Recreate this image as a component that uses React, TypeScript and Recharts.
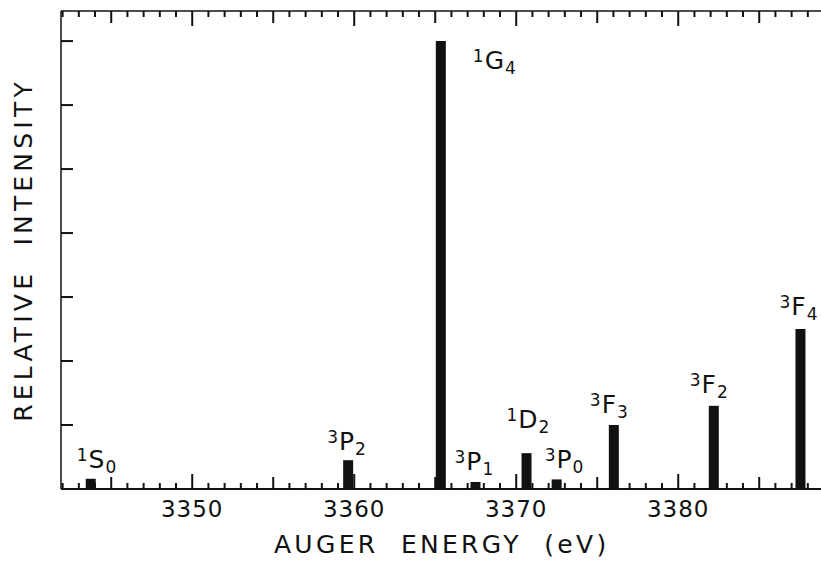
import { BarChart, Bar, XAxis, YAxis, LabelList } from "recharts";

// Auger lines: energy (eV) and relative intensity
const energies = [3343.74, 3359.63, 3365.35, 3367.49, 3370.64, 3372.5, 3376.03, 3382.2, 3387.55];
const intensities = [0.16, 0.45, 7.0, 0.11, 0.56, 0.15, 1.0, 1.3, 2.5];
const termSup = ["1", "3", "1", "3", "1", "3", "3", "3", "3"];
const termLetter = ["S", "P", "G", "P", "D", "P", "F", "F", "F"];
const termSub = ["0", "2", "4", "1", "2", "0", "3", "2", "4"];

const energyTicks = [
  3342, 3343, 3344, 3345, 3346, 3347, 3348, 3349, 3350, 3351, 3352, 3353, 3354, 3355, 3356, 3357,
  3358, 3359, 3360, 3361, 3362, 3363, 3364, 3365, 3366, 3367, 3368, 3369, 3370, 3371, 3372, 3373,
  3374, 3375, 3376, 3377, 3378, 3379, 3380, 3381, 3382, 3383, 3384, 3385, 3386, 3387, 3388,
];
const energyLabels = [3350, 3360, 3370, 3380];
const intensityTicks = [0, 1, 2, 3, 4, 5, 6, 7];

const data = energies.map((energy, i) => ({ energy, intensity: intensities[i] }));

// label placement relative to bar top-center (layout only)
const labelOffsets: [number, number][] = [
  [-14, -11], [-21, -10], [32, 28], [-21, -12], [-20, -25], [-12, -11], [-24, -12], [-24, -13], [-21, -14],
];

const FONT = "'DejaVu Sans', 'Liberation Sans', sans-serif";
const INK = "#111";

// chart geometry (axes are 1px thick boxes)
const W = 830;
const H = 563;
const MARGIN = { top: 10, right: 6.6, bottom: 73, left: 60 };
const PLOT_TOP = MARGIN.top + 1;
const PLOT_BOTTOM = H - MARGIN.bottom - 1;
const PLOT_LEFT = MARGIN.left + 1;
const PLOT_RIGHT = W - MARGIN.right - 1;

const tickLen = (v: number) => {
  const r = Math.round(v);
  return r % 10 === 0 ? 15 : r % 5 === 0 ? 12 : 6;
};

const BottomTick = (props: any) => {
  const { x, payload } = props;
  const v = Number(payload.value);
  const len = tickLen(v);
  return (
    <g>
      <line x1={x} x2={x} y1={PLOT_BOTTOM} y2={PLOT_BOTTOM - len} stroke={INK} strokeWidth={2} />
      {energyLabels.includes(Math.round(v)) && (
        <text x={x} y={PLOT_BOTTOM + 28} textAnchor="middle" fontSize={23} fontFamily={FONT} letterSpacing={1} fill={INK}>
          {Math.round(v)}
        </text>
      )}
    </g>
  );
};

const TopTick = (props: any) => {
  const { x, payload } = props;
  const len = tickLen(Number(payload.value));
  return <line x1={x} x2={x} y1={PLOT_TOP} y2={PLOT_TOP + len} stroke={INK} strokeWidth={2} />;
};

const LeftTick = (props: any) => {
  const { y, payload } = props;
  if (Number(payload.value) === 0) return <g />;
  return <line x1={PLOT_LEFT} x2={PLOT_LEFT + 12} y1={y} y2={y} stroke={INK} strokeWidth={2} />;
};

const RightTick = (props: any) => {
  const { y, payload } = props;
  if (Number(payload.value) === 0) return <g />;
  return <line x1={PLOT_RIGHT} x2={PLOT_RIGHT - 12} y1={y} y2={y} stroke={INK} strokeWidth={2} />;
};

const TermLabel = (props: any) => {
  const { x, y, width, index } = props;
  const [dx, dy] = labelOffsets[index];
  const base = y + dy;
  return (
    <text x={x + width / 2 + dx} y={base} fontFamily={FONT} fill={INK}>
      <tspan y={base - 7} fontSize={17}>{termSup[index]}</tspan>
      <tspan y={base} dx={1} fontSize={25}>{termLetter[index]}</tspan>
      <tspan y={base + 5} dx={1} fontSize={17}>{termSub[index]}</tspan>
    </text>
  );
};

const axisCommon = {
  interval: 0 as const,
  tickSize: 1,
  tickMargin: 1,
  tickLine: false,
};

export default function App() {
  return (
    <div style={{ position: "fixed", left: 0, top: 0, width: 821, height: 563, overflow: "hidden", background: "#fff" }}>
      <BarChart width={W} height={H} data={data} margin={MARGIN}>
        <XAxis
          {...axisCommon}
          xAxisId="bottom"
          type="number"
          dataKey="energy"
          domain={[3341.9, 3388.9]}
          ticks={energyTicks}
          height={1}
          tick={<BottomTick />}
          axisLine={{ stroke: INK, strokeWidth: 2 }}
          label={{
            content: () => (
              <text
                x={(PLOT_LEFT + PLOT_RIGHT) / 2}
                y={PLOT_BOTTOM + 64}
                textAnchor="middle"
                fontSize={25}
                fontFamily={FONT}
                letterSpacing={3.3}
                fill={INK}
                style={{ whiteSpace: "pre" }}
              >
                {"AUGER  ENERGY  (eV)"}
              </text>
            ),
          }}
        />
        <XAxis
          {...axisCommon}
          xAxisId="top"
          orientation="top"
          type="number"
          dataKey="energy"
          domain={[3341.9, 3388.9]}
          ticks={energyTicks}
          height={1}
          tick={<TopTick />}
          axisLine={{ stroke: INK, strokeWidth: 1.5 }}
        />
        <YAxis
          {...axisCommon}
          yAxisId="left"
          type="number"
          domain={[0, 7.47]}
          ticks={intensityTicks}
          width={1}
          tick={<LeftTick />}
          axisLine={{ stroke: INK, strokeWidth: 1.5 }}
          label={{
            content: () => {
              const cx = PLOT_LEFT - 38;
              const cy = (PLOT_TOP + PLOT_BOTTOM) / 2;
              return (
                <text
                  x={cx}
                  y={cy}
                  transform={`rotate(-90 ${cx} ${cy})`}
                  textAnchor="middle"
                  dominantBaseline="central"
                  fontSize={25}
                  fontFamily={FONT}
                  letterSpacing={4.2}
                  fill={INK}
                  style={{ whiteSpace: "pre" }}
                >
                  {"RELATIVE  INTENSITY"}
                </text>
              );
            },
          }}
        />
        <YAxis
          {...axisCommon}
          yAxisId="right"
          orientation="right"
          type="number"
          domain={[0, 7.47]}
          ticks={intensityTicks}
          width={1}
          tick={<RightTick />}
          axisLine={{ stroke: INK, strokeWidth: 1.5 }}
        />
        <Bar dataKey="intensity" xAxisId="bottom" yAxisId="left" barSize={10} fill={INK} isAnimationActive={false}>
          <LabelList dataKey="intensity" content={<TermLabel />} />
        </Bar>
      </BarChart>
    </div>
  );
}
